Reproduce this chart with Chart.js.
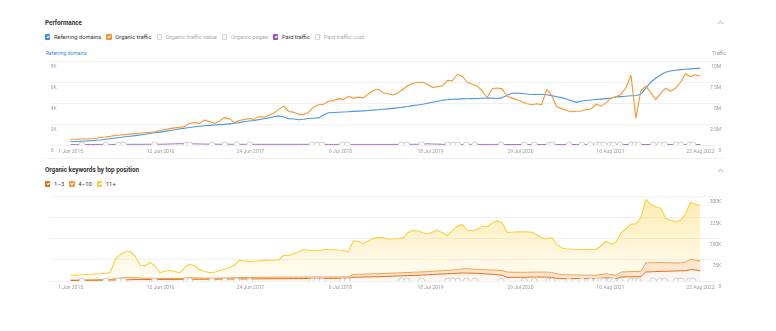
<!DOCTYPE html>
<html>
<head>
<meta charset="utf-8">
<title>Performance</title>
<script src="https://cdn.jsdelivr.net/npm/chart.js@4.4.1/dist/chart.umd.min.js"></script>
<style>
  body { margin: 0; background: #fff; font-family: Roboto, "Open Sans", sans-serif; }
  #page { position: relative; width: 776px; height: 331px; overflow: hidden; }
  .abs { position: absolute; }
  .title { font-size: 6.3px; font-weight: 700; color: #333; white-space: nowrap; }
  .row { display: flex; align-items: center; font-size: 5.8px; color: #333; white-space: nowrap; }
  .item { display: flex; align-items: center; margin-right: 5px; }
  .item.off { color: #aaa; }
  .box { width: 5.4px; height: 5.4px; border-radius: 1px; margin-right: 3.6px; box-sizing: border-box; border: 0.7px solid #d4d4d4; position: relative; }
  .box.on { border: none; }
  .box.on::after { content: ''; position: absolute; left: 1.9px; top: 0.8px; width: 1.2px; height: 2.4px; border: solid #fff; border-width: 0 0.8px 0.8px 0; transform: rotate(45deg); }
  .axis-title { font-size: 5px; white-space: nowrap; }
  .rule { height: 1px; background: #f0f0f0; }
  canvas { display: block; }
</style>
</head>
<body>
<div id="page">
  <div class="abs title" style="left:45px; top:19px;">Performance</div>
  <svg class="abs" style="left:717px; top:20px;" width="7" height="5"><polyline points="0.8,4 3.5,1.2 6.2,4" fill="none" stroke="#9a9a9a" stroke-width="0.8"/></svg>

  <div class="abs row" style="left:45px; top:34px;">
    <div class="item"><span class="box on" style="background:#3d87dc"></span>Referring domains</div>
    <div class="item"><span class="box on" style="background:#f5922c"></span>Organic traffic</div>
    <div class="item off"><span class="box"></span>Organic traffic value</div>
    <div class="item off"><span class="box"></span>Organic pages</div>
    <div class="item"><span class="box on" style="background:#9b4fb8"></span>Paid traffic</div>
    <div class="item off"><span class="box"></span>Paid traffic cost</div>
  </div>

  <div class="abs axis-title" style="left:46px; top:50px; color:#3d87dc;">Referring domains</div>
  <div class="abs axis-title" style="left:712px; top:50px; color:#999;">Traffic</div>

  <div class="abs" style="left:45px; top:55px; width:681px; height:102px;"><canvas id="perf"></canvas></div>

  <div class="abs rule" style="left:45px; top:158px; width:680px;"></div>

  <div class="abs title" style="left:45px; top:166px;">Organic keywords by top position</div>
  <svg class="abs" style="left:717px; top:168px;" width="7" height="5"><polyline points="0.8,4 3.5,1.2 6.2,4" fill="none" stroke="#9a9a9a" stroke-width="0.8"/></svg>

  <div class="abs row" style="left:45px; top:181px;">
    <div class="item"><span class="box on" style="background:#e0701f"></span>1–3</div>
    <div class="item"><span class="box on" style="background:#f7983f"></span>4–10</div>
    <div class="item"><span class="box on" style="background:#fcca3a"></span>11+</div>
  </div>

  <div class="abs" style="left:45px; top:190px; width:681px; height:103px;"><canvas id="kw"></canvas></div>
</div>

<script>
// Axis dates (evenly spaced, 377 days apart)
const dateLabels = ['1 Jun 2015', '12 Jun 2016', '24 Jun 2017', '6 Jul 2018', '18 Jul 2019', '29 Jul 2020', '10 Aug 2021', '22 Aug 2022'];

// Referring domains, thousands (one value per sample, ~3 weeks apart)
const referringDomains = [
  0.31, 0.33, 0.36, 0.38, 0.41, 0.45, 0.47, 0.54, 0.60, 0.66,
  0.72, 0.78, 0.83, 0.89, 0.96, 1.03, 1.10, 1.17, 1.23, 1.30,
  1.38, 1.45, 1.54, 1.60, 1.67, 1.74, 1.79, 1.83, 1.87, 1.90,
  1.94, 1.96, 2.01, 2.07, 2.13, 2.21, 2.28, 2.34, 2.42, 2.50,
  2.58, 2.69, 2.77, 2.66, 2.51, 2.47, 2.41, 2.45, 2.52, 2.55,
  2.58, 2.85, 3.07, 3.10, 3.12, 3.14, 3.16, 3.20, 3.23, 3.25,
  3.29, 3.32, 3.36, 3.40, 3.44, 3.49, 3.54, 3.61, 3.67, 3.75,
  3.81, 3.88, 3.97, 4.07, 4.17, 4.27, 4.31, 4.35, 4.37, 4.39,
  4.41, 4.42, 4.43, 4.45, 4.48, 4.46, 4.43, 4.51, 4.74, 4.93,
  4.95, 4.91, 4.85, 4.81, 4.81, 4.81, 4.78, 4.70, 4.60, 4.51,
  4.38, 4.22, 4.06, 4.19, 4.24, 4.28, 4.33, 4.37, 4.42, 4.48,
  4.58, 4.61, 4.65, 4.69, 4.72, 4.84, 5.41, 5.98, 6.36, 6.69,
  6.93, 7.04, 7.12, 7.18, 7.21, 7.25, 7.29, 7.32
];

// Organic traffic, millions
const organicTraffic = [
  0.68, 0.69, 0.71, 0.72, 0.74, 0.77, 0.89, 0.95, 1.03, 1.13,
  1.19, 1.23, 1.30, 1.35, 1.40, 1.45, 1.51, 1.57, 1.72, 1.85,
  1.95, 2.04, 2.11, 2.19, 2.55, 2.67, 2.57, 2.97, 2.79, 2.57,
  2.85, 3.26, 3.14, 2.69, 2.91, 3.02, 3.15, 3.05, 3.38, 3.30,
  3.55, 3.80, 4.27, 4.63, 3.97, 3.91, 3.65, 3.62, 3.91, 4.51,
  4.80, 4.86, 5.20, 5.28, 5.52, 5.40, 5.78, 5.58, 5.70, 5.60,
  6.05, 6.46, 6.64, 6.23, 6.10, 5.95, 6.20, 6.64, 7.06, 7.35,
  7.44, 7.47, 7.20, 6.85, 6.95, 7.05, 7.69, 7.65, 8.42, 8.19,
  7.47, 7.24, 7.00, 6.46, 5.63, 6.70, 6.79, 6.68, 5.81, 5.58,
  5.40, 5.16, 4.92, 4.80, 4.92, 4.80, 6.61, 5.93, 4.59, 4.33,
  4.10, 3.95, 4.02, 4.05, 4.22, 4.30, 4.85, 4.63, 5.04, 5.58,
  5.75, 6.05, 6.82, 8.30, 3.20, 6.46, 7.00, 6.23, 5.40, 6.17,
  6.76, 6.41, 6.76, 7.47, 8.48, 8.13, 8.36, 8.19
];

// Paid traffic, millions
const paidTraffic = [
  0.05, 0.05, 0.05, 0.06, 0.06, 0.06, 0.07, 0.07, 0.07, 0.07,
  0.08, 0.08, 0.08, 0.08, 0.08, 0.09, 0.09, 0.09, 0.09, 0.10,
  0.12, 0.14, 0.15, 0.16, 0.15, 0.14, 0.12, 0.11, 0.10, 0.10,
  0.09, 0.09, 0.09, 0.08, 0.08, 0.08, 0.08, 0.08, 0.08, 0.08,
  0.08, 0.08, 0.08, 0.08, 0.08, 0.08, 0.08, 0.08, 0.08, 0.08,
  0.07, 0.07, 0.07, 0.07, 0.07, 0.07, 0.07, 0.07, 0.07, 0.07,
  0.07, 0.07, 0.07, 0.07, 0.07, 0.07, 0.07, 0.08, 0.08, 0.08,
  0.09, 0.10, 0.14, 0.12, 0.10, 0.08, 0.07, 0.07, 0.07, 0.07,
  0.07, 0.07, 0.07, 0.07, 0.07, 0.07, 0.07, 0.07, 0.06, 0.06,
  0.06, 0.06, 0.06, 0.06, 0.06, 0.06, 0.06, 0.06, 0.06, 0.06,
  0.06, 0.06, 0.06, 0.06, 0.06, 0.06, 0.06, 0.06, 0.06, 0.06,
  0.06, 0.06, 0.06, 0.06, 0.06, 0.06, 0.06, 0.06, 0.06, 0.06,
  0.06, 0.06, 0.06, 0.06, 0.06, 0.06, 0.06, 0.06
];

// Organic keywords by position bucket, thousands (stacked)
const kwTop3 = [
  1.8, 1.8, 2.1, 2.1, 2.5, 2.5, 2.8, 2.8, 3.2, 3.5,
  3.9, 4.2, 4.6, 5.0, 5.0, 5.1, 5.2, 5.3, 5.4, 5.5,
  5.6, 5.7, 5.8, 5.9, 6.0, 6.1, 6.2, 6.3, 6.4, 6.5,
  6.6, 6.8, 6.9, 7.1, 7.2, 7.3, 7.4, 7.5, 7.6, 7.7,
  7.8, 7.9, 8.0, 8.1, 8.3, 8.5, 8.6, 8.7, 8.8, 8.9,
  9.0, 9.1, 9.2, 9.3, 9.4, 9.5, 9.5, 13.1, 13.5, 13.9,
  14.3, 14.7, 15.1, 15.6, 16.2, 16.9, 17.6, 18.3, 19.0, 19.6,
  20.2, 21.0, 21.9, 22.8, 23.7, 24.6, 25.5, 26.4, 27.4, 28.3,
  28.0, 27.5, 27.2, 26.0, 24.7, 23.5, 22.0, 20.2, 13.1, 13.1,
  13.1, 13.1, 13.1, 14.1, 14.0, 13.8, 13.5, 13.1, 9.5, 8.5,
  8.5, 8.5, 8.5, 8.5, 8.5, 8.5, 8.5, 9.5, 11.3, 9.5,
  8.5, 14.1, 14.5, 14.8, 15.2, 15.5, 31.8, 32.5, 33.2, 34.0,
  34.3, 34.8, 35.3, 35.8, 36.5, 40.3, 39.0, 36.0
];
const kwTop10 = [
  1.7, 1.7, 1.8, 1.8, 1.7, 1.7, 1.8, 2.2, 2.1, 5.3,
  7.1, 7.8, 7.8, 6.7, 5.3, 4.4, 4.7, 4.2, 3.1, 3.3,
  3.2, 3.1, 3.0, 4.4, 5.3, 5.2, 4.1, 3.6, 3.5, 3.4,
  3.7, 3.8, 4.1, 4.2, 5.2, 5.1, 5.0, 5.2, 5.1, 5.4,
  5.3, 5.5, 5.4, 5.7, 5.5, 5.3, 5.2, 5.1, 5.3, 5.2,
  5.1, 5.0, 5.3, 5.2, 5.1, 5.0, 5.0, 9.5, 10.2, 10.5,
  10.8, 10.8, 10.7, 10.6, 11.0, 11.0, 11.1, 11.1, 11.1, 11.2,
  11.3, 11.2, 11.3, 11.5, 11.7, 11.8, 12.0, 12.2, 12.6, 14.5,
  15.2, 14.6, 13.8, 14.3, 14.9, 15.4, 16.2, 16.6, 18.7, 18.0,
  17.7, 17.7, 17.7, 17.4, 17.5, 17.7, 18.0, 17.0, 16.0, 14.1,
  13.4, 13.1, 12.7, 12.4, 12.0, 11.7, 11.7, 13.1, 14.5, 13.1,
  11.7, 17.7, 18.0, 18.4, 18.4, 18.8, 31.9, 31.9, 31.5, 31.1,
  30.4, 29.6, 28.4, 28.2, 31.4, 35.4, 34.9, 35.1
];
const kw11plus = [
  16.7, 17.4, 18.0, 19.1, 19.5, 20.6, 21.2, 22.2, 23.7, 68.0,
  81.7, 91.3, 92.6, 75.7, 45.2, 44.3, 56.2, 44.3, 20.5, 25.5,
  28.3, 24.8, 20.2, 38.2, 47.8, 42.5, 29.3, 24.4, 19.1, 20.9,
  26.8, 30.8, 35.7, 44.2, 60.8, 59.0, 55.2, 57.0, 58.7, 59.8,
  60.1, 60.5, 61.6, 77.1, 75.3, 83.1, 89.5, 96.6, 94.5, 92.7,
  92.7, 97.0, 96.9, 95.9, 94.8, 94.1, 88.8, 118.5, 116.7, 107.2,
  115.3, 124.5, 126.3, 127.0, 120.3, 120.3, 121.3, 122.7, 140.4, 147.8,
  145.0, 138.3, 132.7, 138.7, 143.2, 134.1, 122.4, 139.0, 152.8, 157.0,
  136.1, 134.8, 141.9, 152.5, 152.1, 165.2, 174.7, 169.1, 140.5, 141.2,
  142.9, 142.5, 142.5, 140.8, 131.9, 120.9, 117.8, 122.7, 104.3, 93.8,
  92.0, 90.5, 90.6, 90.5, 90.9, 90.9, 90.9, 101.9, 114.6, 107.2,
  116.7, 136.9, 151.8, 167.4, 168.7, 189.2, 223.5, 206.9, 197.7, 191.3,
  157.1, 150.3, 145.3, 150.7, 168.0, 203.4, 197.4, 194.2
];

// Ahrefs database update marks, as sample positions on the date axis
const updateMarks = [
  2.3, 7.1, 9.7, 10.7, 16.9, 23.3, 24, 28.5, 31.1, 33.5, 36.1,
  48.7, 49.7, 50.7, 54.8, 55.8, 66.7, 67.8, 70.8, 76.1, 77.1, 78.1, 79.8, 81.5,
  86.8, 91.5, 93.5, 96.5, 97.1, 100.5, 103.1, 104.8, 106.1, 106.8, 107.5,
  108.8, 109.5, 110.8, 113.1, 113.8, 114.5, 117.5, 118.8, 119.8, 122.1,
  123.1, 124.8, 125.5
];

const lastIdx = referringDomains.length - 1;
const tickAt = dateLabels.map((_, k) => k * lastIdx / (dateLabels.length - 1));
const toPoints = arr => arr.map((y, x) => ({ x, y }));

Chart.defaults.font.family = 'Roboto, "Open Sans", sans-serif';
Chart.defaults.font.size = 5;
Chart.defaults.color = '#9a9a9a';

const xAxis = () => ({
  type: 'linear',
  min: -4.2,
  max: lastIdx + 4.2,
  grid: { display: false, drawTicks: false },
  border: { display: false },
  afterBuildTicks: s => { s.ticks = tickAt.map(value => ({ value })); },
  afterFit: s => { s.height = 12; },
  ticks: {
    autoSkip: false, maxRotation: 0, padding: 4, color: '#9a9a9a',
    callback: (v, i) => dateLabels[i]
  }
});

const gridY = { color: '#eeeeee', lineWidth: 0.8, drawTicks: false };

const markSet = (axis) => ({
  label: 'Updates',
  data: updateMarks.map(x => ({ x, y: 0 })),
  yAxisID: axis,
  showLine: false,
  stack: 'marks',
  pointRadius: 3,
  pointBackgroundColor: '#fff',
  pointBorderColor: '#c2c2c2',
  pointBorderWidth: 0.8,
  order: -1
});

const baseOptions = {
  responsive: true,
  maintainAspectRatio: false,
  animation: false,
  events: [],
  layout: { padding: { top: 6, left: 0, right: 0, bottom: 0 } },
  plugins: { legend: { display: false }, tooltip: { enabled: false } },
  elements: { point: { radius: 0 }, line: { tension: 0, borderJoinStyle: 'round' } }
};

new Chart(document.getElementById('perf'), {
  type: 'line',
  data: {
    datasets: [
      { label: 'Referring domains', data: toPoints(referringDomains), yAxisID: 'y', borderColor: '#4a97e0', borderWidth: 1.1, order: 2 },
      { label: 'Organic traffic', data: toPoints(organicTraffic), yAxisID: 'y1', borderColor: '#f7962f', borderWidth: 1.1, order: 1 },
      { label: 'Paid traffic', data: toPoints(paidTraffic), yAxisID: 'y1', borderColor: '#b06bcf', borderWidth: 1, order: 3 },
      markSet('y')
    ]
  },
  options: {
    ...baseOptions,
    scales: {
      x: xAxis(),
      y: {
        position: 'left', min: 0, max: 8,
        grid: gridY, border: { display: false },
        afterFit: s => { s.width = 0; },
        ticks: { stepSize: 2, mirror: true, padding: 1, labelOffset: 6, color: '#8fa3bf', callback: v => v ? v + 'K' : '0' }
      },
      y1: {
        position: 'right', min: 0, max: 10,
        grid: { drawOnChartArea: false, drawTicks: false }, border: { display: false },
        afterFit: s => { s.width = 0; },
        ticks: { stepSize: 2.5, mirror: true, padding: 0, labelOffset: 6, color: '#9a9a9a', callback: v => v ? v + 'M' : '0' }
      }
    }
  }
});

const fade = (top, bottom) => ctx => {
  const area = ctx.chart.chartArea;
  if (!area) return top;
  const g = ctx.chart.ctx.createLinearGradient(0, area.top, 0, area.bottom);
  g.addColorStop(0, top);
  g.addColorStop(1, bottom);
  return g;
};

new Chart(document.getElementById('kw'), {
  type: 'line',
  data: {
    datasets: [
      { label: '1–3', data: toPoints(kwTop3), borderColor: '#e0701f', borderWidth: 1, fill: 'origin',
        backgroundColor: fade('rgba(224,112,31,0.22)', 'rgba(224,112,31,0.06)'), stack: 'kw', order: 1 },
      { label: '4–10', data: toPoints(kwTop10), borderColor: '#f8a04e', borderWidth: 1, fill: '-1',
        backgroundColor: 'rgba(248,160,78,0.28)', stack: 'kw', order: 2 },
      { label: '11+', data: toPoints(kw11plus), borderColor: '#fcd03f', borderWidth: 1.1, fill: '-1',
        backgroundColor: fade('rgba(253,208,63,0.42)', 'rgba(253,208,63,0.05)'), stack: 'kw', order: 3 },
      markSet('y')
    ]
  },
  options: {
    ...baseOptions,
    scales: {
      x: xAxis(),
      y: {
        position: 'right', stacked: true, min: 0, max: 300,
        grid: gridY, border: { display: false },
        afterFit: s => { s.width = 0; },
        ticks: { stepSize: 75, mirror: true, padding: 0, labelOffset: 6, color: '#9a9a9a', callback: v => v ? v + 'K' : '0' }
      }
    }
  }
});
</script>
</body>
</html>
